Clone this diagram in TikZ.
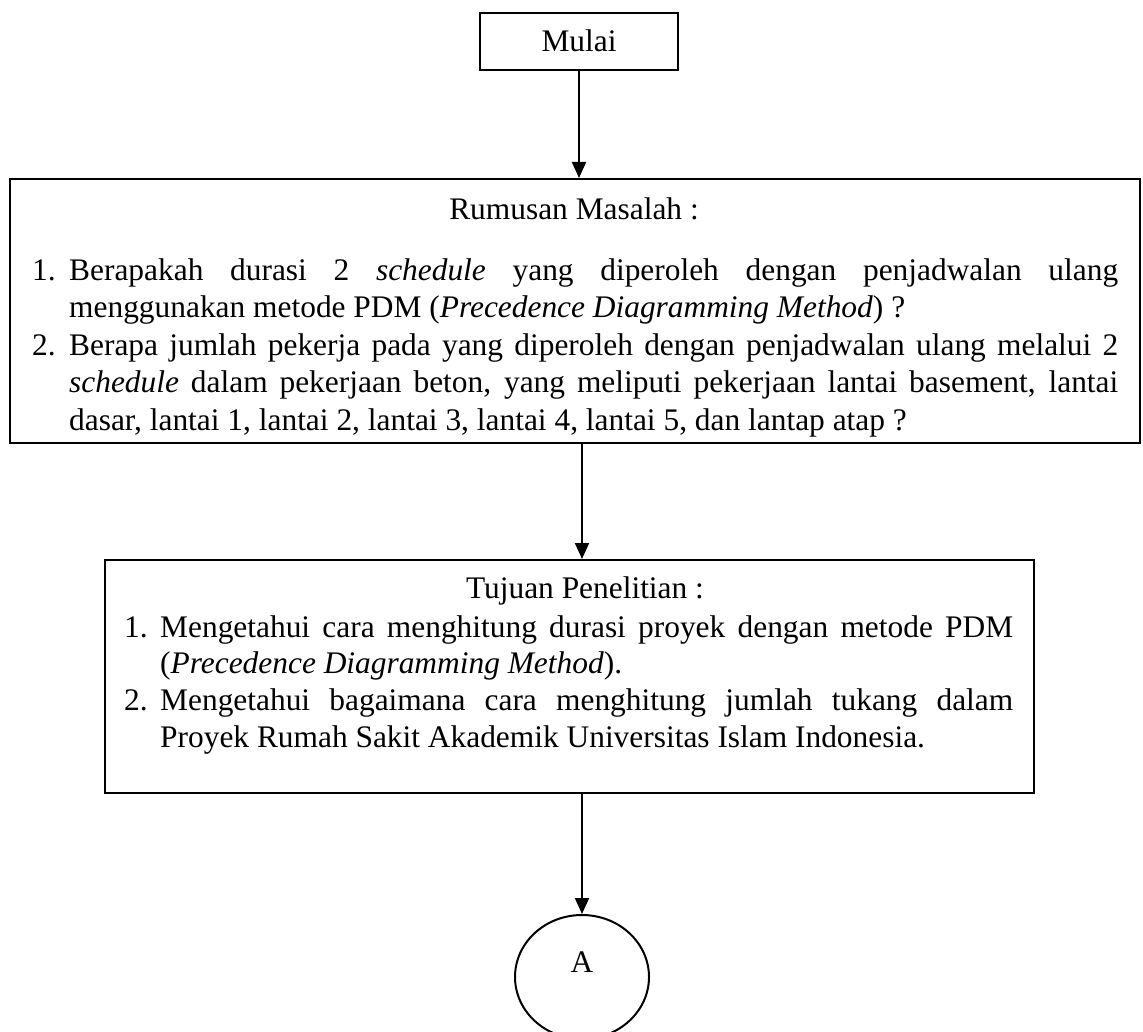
\documentclass[tikz,border=0pt]{standalone}
\usepackage{fontspec}
\setmainfont{Liberation Serif}
\usetikzlibrary{arrows.meta,shapes.geometric}
\begin{document}
\begin{tikzpicture}[x=1pt,y=-1pt,
  boxnode/.style={draw,line width=2pt,inner sep=0pt,rectangle},
  txt/.style={inner sep=0pt,anchor=base west,font=\fontsize{31.4}{37.5}\selectfont},
  ctxt/.style={inner sep=0pt,anchor=base,font=\fontsize{31.4}{37.5}\selectfont},
  flow/.style={line width=2pt,-{Triangle[width=14pt,length=16pt]}}]
\clip (0,0) rectangle (1143,1032);
\fill[white] (0,0) rectangle (1143,1032);

% boxes
\node[boxnode,minimum width=198pt,minimum height=57pt] (mulai) at (579,41.5) {};
\node[boxnode,minimum width=1130pt,minimum height=264pt] (rumusan) at (575,311) {};
\node[boxnode,minimum width=929pt,minimum height=233pt] (tujuan) at (569.5,676.5) {};
\node[draw,line width=2pt,ellipse,inner sep=0pt,minimum width=134pt,minimum height=124pt] (circA) at (582,977) {};

% connectors
\draw[flow] (mulai.south) -- (mulai.south |- rumusan.north);
\draw[flow] (rumusan.south -| circA.north) -- (tujuan.north -| circA.north);
\draw[flow] (tujuan.south -| circA.north) -- (circA.north);

% texts
\node[ctxt] (tmulai) at (579,52) {Mulai};

\node[ctxt] (trum) at (574,220) {Rumusan Masalah :};
\node[txt] (rn1) at (32,280) {1.};
\node[txt] (rl1) at (69,280) {\makebox[1049pt][s]{Berapakah durasi 2 \textit{schedule} yang diperoleh dengan penjadwalan ulang}};
\node[txt] (rl2) at (69,317.5) {menggunakan metode PDM (\textit{Precedence Diagramming Method}) ?};
\node[txt] (rn2) at (32,355) {2.};
\node[txt] (rl3) at (69,355) {\makebox[1049pt][s]{Berapa jumlah pekerja pada yang diperoleh dengan penjadwalan ulang melalui 2}};
\node[txt] (rl4) at (69,392.5) {\makebox[1049pt][s]{\textit{schedule} dalam pekerjaan beton, yang meliputi pekerjaan lantai basement, lantai}};
\node[txt] (rl5) at (69,430) {dasar, lantai 1, lantai 2, lantai 3, lantai 4, lantai 5, dan lantap atap ?};

\node[ctxt] (ttuj) at (585,598) {Tujuan Penelitian :};
\node[txt] (tn1) at (124,637) {1.};
\node[txt] (tl1) at (160,637) {\makebox[853pt][s]{Mengetahui cara menghitung durasi proyek dengan metode PDM}};
\node[txt] (tl2) at (160,673.5) {(\textit{Precedence Diagramming Method}).};
\node[txt] (tn2) at (124,710) {2.};
\node[txt] (tl3) at (160,710) {\makebox[853pt][s]{Mengetahui bagaimana cara menghitung jumlah tukang dalam}};
\node[txt] (tl4) at (160,747) {Proyek Rumah Sakit Akademik Universitas Islam Indonesia.};

\node[ctxt] (tA) at (582,972) {A};
\end{tikzpicture}
\end{document}
